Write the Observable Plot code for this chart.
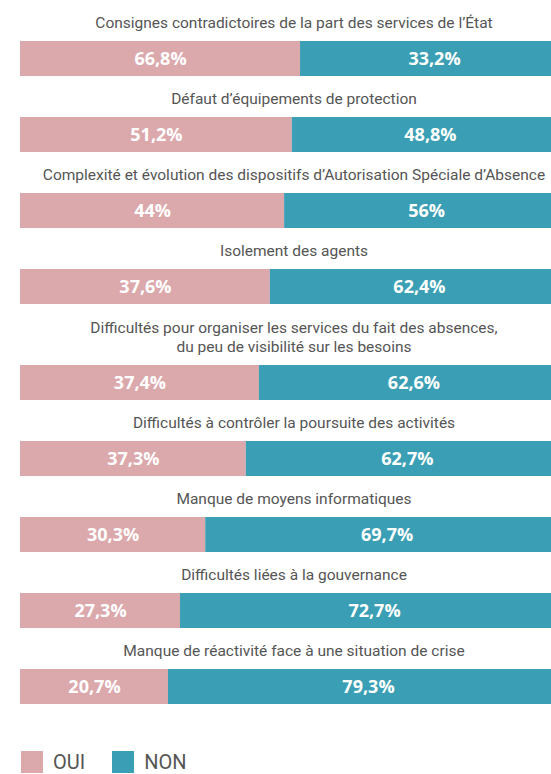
<!DOCTYPE html>
<html>
<head>
<meta charset="utf-8">
<script src="https://cdn.jsdelivr.net/npm/d3@7"></script>
<script src="https://cdn.jsdelivr.net/npm/@observablehq/plot@0.6"></script>
<style>
  html, body { margin: 0; padding: 0; background: #fff; overflow: hidden; }
  #chart { width: 551px; overflow: hidden; }
  .title {
    width: 568px; box-sizing: border-box; padding-left: 20px;
    display: flex; flex-direction: column; justify-content: flex-end;
    padding-bottom: 8px; text-align: center; white-space: pre-line;
    font-family: Roboto, sans-serif; font-size: 15.5px; line-height: 19px; color: #555;
  }
  .legend { display: flex; align-items: center; margin-top: 47px; margin-left: 21px;
    font-family: Roboto, sans-serif; font-size: 20px; line-height: 22px; color: #555; }
  .sw { width: 22px; height: 22px; display: inline-block; }
</style>
</head>
<body>
<div id="chart"></div>
<script>
// Categories (titles above each bar)
const categories = [
  "Consignes contradictoires de la part des services de l’État",
  "Défaut d’équipements de protection",
  "Complexité et évolution des dispositifs d’Autorisation Spéciale d’Absence",
  "Isolement des agents",
  "Difficultés pour organiser les services du fait des absences,\ndu peu de visibilité sur les besoins",
  "Difficultés à contrôler la poursuite des activités",
  "Manque de moyens informatiques",
  "Difficultés liées à la gouvernance",
  "Manque de réactivité face à une situation de crise"
];
// Printed values (%)
const oui = [66.8, 51.2, 44, 37.6, 37.4, 37.3, 30.3, 27.3, 20.7];
const non = [33.2, 48.8, 56, 62.4, 62.6, 62.7, 69.7, 72.7, 79.3];
// OUI share as actually drawn in the reference bars (%)
const ouiDrawn = [51.1, 49.6, 48.2, 45.6, 43.6, 41.2, 33.8, 29.2, 27.0];
const answers = ["OUI", "NON"];
const colors = ["#dba8ac", "#3a9fb4"];

const fmt = v => String(v).replace(".", ",") + "%";
const chart = document.getElementById("chart");

categories.forEach((cat, i) => {
  const t = document.createElement("div");
  t.className = "title";
  const lines = cat.split("\n").length;
  t.style.height = (lines === 1 ? 41 : 61) + "px";
  t.textContent = cat;
  chart.appendChild(t);

  const rows = [
    {answer: "OUI", share: ouiDrawn[i], label: fmt(oui[i])},
    {answer: "NON", share: 100 - ouiDrawn[i], label: fmt(non[i])}
  ];
  const p = Plot.plot({
    width: 551, height: 35,
    margin: 0,
    x: {domain: [0, 100], range: [20, 568], axis: null},
    y: {axis: null},
    color: {domain: answers, range: colors},
    style: {overflow: "hidden", display: "block", maxWidth: "none"},
    marks: [
      Plot.barX(rows, Plot.stackX({x: "share", fill: "answer", inset: 0})),
      Plot.text(rows, Plot.stackX({x: "share", text: "label", fill: "white",
        fontSize: 18, fontWeight: "bold", fontFamily: "'Open Sans', sans-serif", dy: 0.5}))
    ]
  });
  chart.appendChild(p);
});

const leg = document.createElement("div");
leg.className = "legend";
answers.forEach((a, j) => {
  const s = document.createElement("span");
  s.className = "sw"; s.style.background = colors[j];
  if (j > 0) s.style.marginLeft = "27px";
  leg.appendChild(s);
  const l = document.createElement("span");
  l.textContent = a; l.style.marginLeft = "10px";
  leg.appendChild(l);
});
chart.appendChild(leg);
</script>
</body>
</html>
